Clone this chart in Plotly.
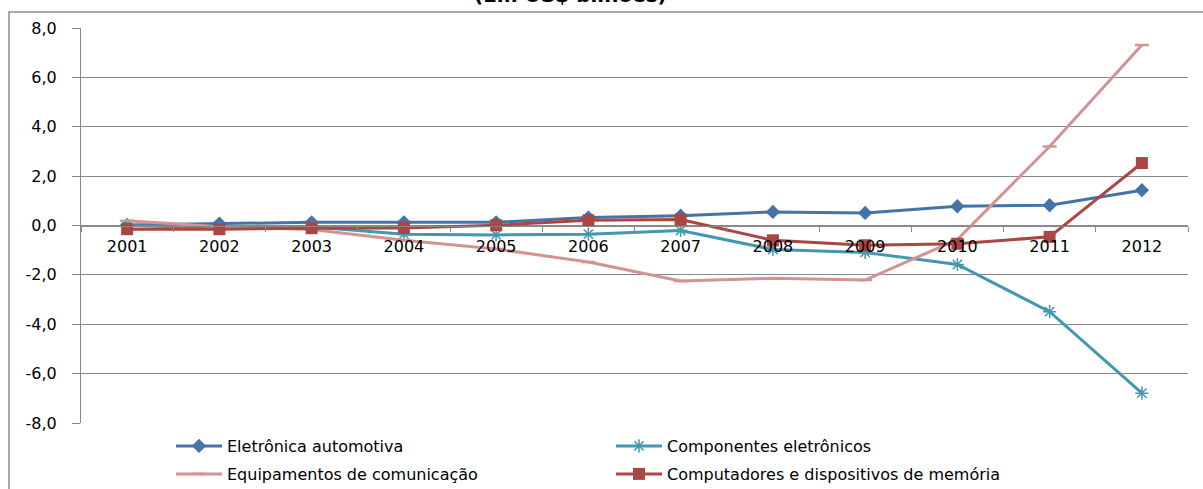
import plotly.graph_objects as go

# Balança comercial por segmento (em US$ bilhões)
anos = ["2001", "2002", "2003", "2004", "2005", "2006",
        "2007", "2008", "2009", "2010", "2011", "2012"]

eletronica_automotiva = [0.02, 0.08, 0.13, 0.13, 0.13, 0.32,
                         0.40, 0.55, 0.51, 0.78, 0.82, 1.43]
componentes_eletronicos = [0.0, -0.10, -0.05, -0.35, -0.38, -0.35,
                           -0.20, -0.97, -1.09, -1.58, -3.49, -6.79]
equipamentos_comunicacao = [0.19, -0.05, -0.16, -0.60, -0.95, -1.48,
                            -2.25, -2.14, -2.21, -0.57, 3.20, 7.31]
computadores_memoria = [-0.15, -0.15, -0.11, -0.10, 0.01, 0.21,
                        0.24, -0.60, -0.80, -0.74, -0.46, 2.53]

y_ticks = [-8, -6, -4, -2, 0, 2, 4, 6, 8]
y_tick_text = ["-8,0", "-6,0", "-4,0", "-2,0", "0,0", "2,0", "4,0", "6,0", "8,0"]

FONT = "DejaVu Sans"
GRID = "#898989"

# canvas / plot-area geometry in pixels
W, H = 1203, 489
L, R, T, B = 81, 15, 28, 66
PW, PH = W - L - R, H - T - B


def px_x(p):
    return (p - L) / PW


def px_y(p):
    return (H - B - p) / PH


fig = go.Figure()

fig.add_trace(go.Scatter(
    x=anos, y=eletronica_automotiva, name="Eletrônica automotiva",
    mode="lines+markers", legend="legend",
    line=dict(color="#4572A7", width=3),
    marker=dict(symbol="diamond", size=11, color="#4572A7"),
))
fig.add_trace(go.Scatter(
    x=anos, y=componentes_eletronicos, name="Componentes eletrônicos",
    mode="lines+markers", legend="legend",
    line=dict(color="#4198AF", width=3),
    marker=dict(symbol="asterisk-open", size=11,
                line=dict(color="#4198AF", width=1.5)),
))
fig.add_trace(go.Scatter(
    x=anos, y=equipamentos_comunicacao, name="Equipamentos de comunicação",
    mode="lines+markers", legend="legend2",
    line=dict(color="#D39393", width=3),
    marker=dict(symbol="line-ew-open", size=10,
                line=dict(color="#D39393", width=2.5)),
))
fig.add_trace(go.Scatter(
    x=anos, y=computadores_memoria, name="Computadores e dispositivos de memória",
    mode="lines+markers", legend="legend2",
    line=dict(color="#AA4643", width=3),
    marker=dict(symbol="square", size=12, color="#AA4643"),
))

legend_common = dict(
    orientation="h", xanchor="left", yanchor="middle",
    entrywidth=379, itemwidth=46,
    font=dict(family=FONT, size=16, color="#000000"),
    bgcolor="rgba(0,0,0,0)", tracegroupgap=0,
)

fig.update_layout(
    width=W, height=H,
    margin=dict(l=L, r=R, t=T, b=B, autoexpand=False),
    paper_bgcolor="white", plot_bgcolor="white",
    font=dict(family=FONT, size=16, color="#000000"),
    showlegend=True,
    legend=dict(x=px_x(171), y=px_y(446), **legend_common),
    legend2=dict(x=px_x(171), y=px_y(474), **legend_common),
    xaxis=dict(
        type="category", range=[-0.5, 11.5],
        anchor="free", position=0.5,
        showline=True, linecolor=GRID, linewidth=1,
        ticks="outside", tickson="boundaries", ticklen=5, tickcolor=GRID,
        showgrid=False, ticklabelstandoff=6,
        tickfont=dict(family=FONT, size=16, color="#000000"),
    ),
    yaxis=dict(
        range=[-8, 8], tickvals=y_ticks, ticktext=y_tick_text,
        showline=True, linecolor=GRID, linewidth=1,
        ticks="outside", ticklen=8, tickcolor=GRID,
        showgrid=True, gridcolor=GRID, gridwidth=1,
        zeroline=True, zerolinecolor=GRID, zerolinewidth=1,
        ticklabelstandoff=12,
        tickfont=dict(family=FONT, size=16, color="#000000"),
    ),
    shapes=[dict(
        type="rect", xref="paper", yref="paper",
        x0=px_x(9), x1=px_x(1206), y0=px_y(500), y1=px_y(12),
        line=dict(color="#8c8c8c", width=1.5), layer="below",
    )],
    annotations=[dict(
        text="<b>(Em US$ bilhões)</b>", xref="paper", yref="paper",
        x=px_x(570), y=px_y(9), xanchor="center", yanchor="bottom",
        showarrow=False, font=dict(family=FONT, size=20, color="#000000"),
    )],
)

fig.write_html("out.html")
